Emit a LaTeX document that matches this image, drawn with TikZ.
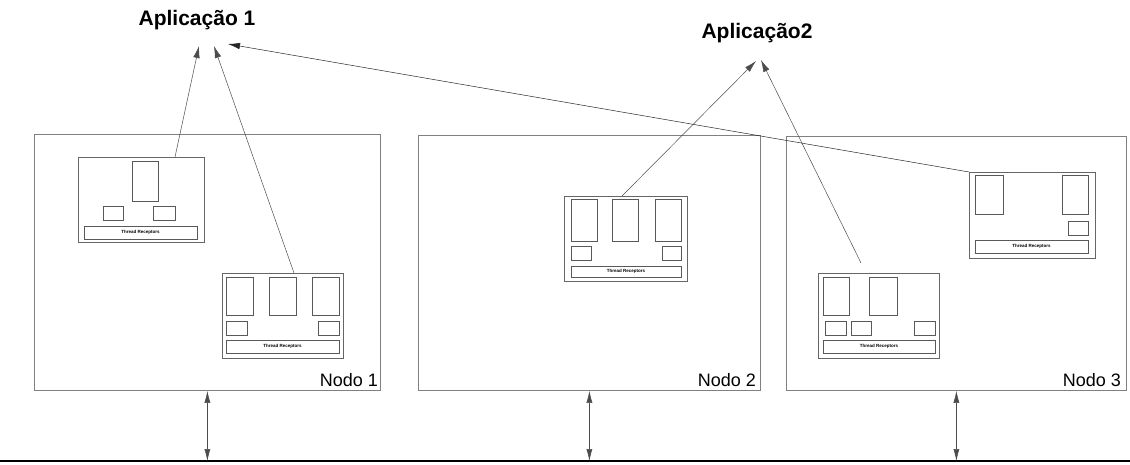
\documentclass[tikz,border=0pt]{standalone}
\usepackage{fontspec}
\setmainfont{Liberation Sans}
\usetikzlibrary{arrows.meta}
\tikzset{
  frame/.style={draw=black!50, line width=0.8pt, inner sep=0pt, anchor=north west},
  proc/.style={draw=black!60, line width=1.1pt, fill=white, inner sep=0pt, anchor=north west},
  part/.style={draw=black!65, line width=0.7pt},
  bartext/.style={font=\fontsize{4.5}{5}\selectfont\bfseries, inner sep=0pt},
  nodolabel/.style={font=\fontsize{18}{20}\selectfont, anchor=base east, inner sep=0pt},
  applabel/.style={font=\fontsize{21}{24}\selectfont\bfseries, inner sep=0pt},
  link/.style={draw=black!70, line width=0.5pt, -{Latex[length=12pt,width=6.5pt]}},
  buslink/.style={draw=black!70, line width=0.5pt, {Latex[length=12pt,width=6pt]}-{Latex[length=12pt,width=6pt]}},
  bus/.style={draw=black, line width=2pt}
}
\begin{document}
\begin{tikzpicture}[x=1pt,y=-1pt]
\useasboundingbox (0,0) rectangle (1130,465);
% main node frames
\node[frame, minimum width=346pt, minimum height=256pt] (n1) at (34,134) {};
\node[frame, minimum width=342pt, minimum height=255pt] (n2) at (418,135) {};
\node[frame, minimum width=340pt, minimum height=254pt] (n3) at (786,136) {};
\node[nodolabel] (l1) at (378,386) {Nodo 1};
\node[nodolabel] (l2) at (756,386) {Nodo 2};
\node[nodolabel] (l3) at (1121,386) {Nodo 3};
% application labels
\node[applabel] (app1) at (197,20) {Aplicação 1};
\node[applabel] (app2) at (757,33) {Aplicação2};
% inner process boxes
\node[proc, minimum width=126pt, minimum height=85pt] (A) at (78,157) {};
\node[proc, minimum width=121pt, minimum height=85pt] (D) at (222,273) {};
\node[proc, minimum width=123pt, minimum height=85pt] (B) at (564,196) {};
\node[proc, minimum width=126pt, minimum height=86pt] (C) at (969,172) {};
\node[proc, minimum width=121pt, minimum height=85pt] (E) at (818,273) {};
% box A contents
\draw[part] (132,161) rectangle (158,201);
\draw[part] (103,206) rectangle (123,220);
\draw[part] (153,206) rectangle (175,220);
\draw[part] (84,226) rectangle (197,239);
\node[bartext] (tA) at (140.5,232.5) {Thread Receptors};
% box D contents
\draw[part] (226,277) rectangle (253,315);
\draw[part] (269,277) rectangle (296,315);
\draw[part] (312,277) rectangle (339,315);
\draw[part] (226,321) rectangle (247,335);
\draw[part] (318,321) rectangle (339,335);
\draw[part] (226,340) rectangle (339,353);
\node[bartext] (tD) at (282.5,346.5) {Thread Receptors};
% box B contents
\draw[part] (571,199) rectangle (597,241);
\draw[part] (612,199) rectangle (638,241);
\draw[part] (655,199) rectangle (681,241);
\draw[part] (571,246) rectangle (591,260);
\draw[part] (662,246) rectangle (681,260);
\draw[part] (571,266) rectangle (681,277);
\node[bartext] (tB) at (626,271.5) {Thread Receptors};
% box C contents
\draw[part] (975,175) rectangle (1003,214);
\draw[part] (1062,175) rectangle (1088,214);
\draw[part] (1068,221) rectangle (1088,235);
\draw[part] (975,240) rectangle (1088,253);
\node[bartext] (tC) at (1031.5,246.5) {Thread Receptors};
% box E contents
\draw[part] (823,277) rectangle (849,315);
\draw[part] (869,277) rectangle (897,315);
\draw[part] (825,321) rectangle (846,335);
\draw[part] (851,321) rectangle (871,335);
\draw[part] (914,321) rectangle (935,335);
\draw[part] (823,340) rectangle (935,353);
\node[bartext] (tE) at (879,346.5) {Thread Receptors};
% connector end points
\coordinate (t1a) at (199,46);
\coordinate (t1b) at (214,46);
\coordinate (t1c) at (228,44);
\coordinate (t2a) at (756,61);
\coordinate (t2b) at (761,60);
\coordinate (sA) at (175,157);
\coordinate (sD) at (294,273);
\coordinate (sB) at (622,196);
\coordinate (sE) at (861,263);
\draw[link] (sA) -- (t1a);
\draw[link] (sD) -- (t1b);
\draw[link, draw=black!85] (C.north west) -- (t1c);
\draw[link] (sB) -- (t2a);
\draw[link] (sE) -- (t2b);
% bus
\coordinate (busL) at (0,461);
\coordinate (busR) at (1130,461);
\draw[bus] (busL) -- (busR);
\draw[buslink] (n1.south) -- (n1.south |- busL);
\draw[buslink] (n2.south) -- (n2.south |- busL);
\draw[buslink] (n3.south) -- (n3.south |- busL);
\end{tikzpicture}
\end{document}
